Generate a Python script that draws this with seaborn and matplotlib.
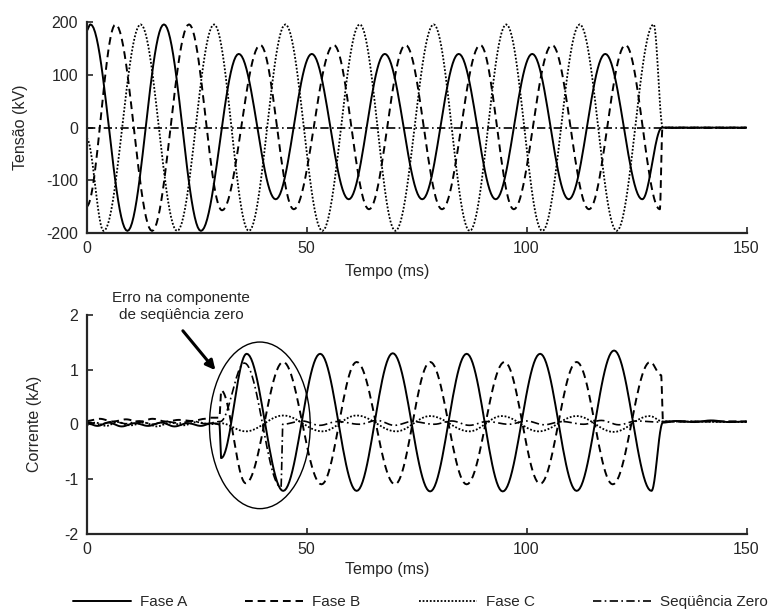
import numpy as np
import pandas as pd
import seaborn as sns
import matplotlib
matplotlib.use("Agg")
import matplotlib.pyplot as plt
from matplotlib.patches import Ellipse

# =========================
# DATA (turning points of each waveform)
# =========================
# --- Tensão (kV) ---
va_t = [0, 0.9, 9.3, 17.6, 26.0, 34.6, 43.0, 51.2, 59.6, 67.8, 76.3, 84.6, 93.0,
        101.3, 109.6, 117.9, 126.3, 130.8, 150]
va_v = [184, 196, -196, 196, -196, 140, -136, 140, -136, 140, -136, 140, -136,
        140, -136, 140, -136, 0, 0]

vb_t = [0, 6.6, 14.9, 23.3, 30.8, 39.5, 47.1, 56.2, 64.2, 72.5, 80.8, 89.5, 97.1,
        105.8, 114.2, 122.5, 130.3, 130.9, 150]
vb_v = [-150, 196, -196, 196, -157, 157, -155, 157, -155, 157, -155, 157, -155,
        157, -155, 157, -155, 0, 0]

vc_t = [0, 3.9, 12.3, 20.6, 29.0, 36.9, 45.2, 53.6, 62.1, 70.2, 78.9, 87.1, 95.4,
        103.6, 112.1, 120.5, 128.9, 131.0, 150]
vc_v = [-20, -196, 196, -196, 196, -196, 196, -196, 196, -196, 196, -196, 196,
        -196, 196, -196, 196, 0, 0]

v0_t = [0, 150]
v0_v = [0, 0]

# --- Corrente (kA) ---
ia_t = [0, 2.5, 5, 8, 11, 14, 17, 20, 23, 26, 28.5, 30.2, 30.6, 36.4, 44.7, 53.1,
        61.4, 69.6, 78.1, 86.4, 94.6, 103.1, 111.4, 119.9, 128.4, 131.0, 134, 138,
        142, 146, 150]
ia_v = [0.02, -0.03, 0.03, -0.04, 0.02, -0.03, 0.03, -0.04, 0.02, -0.03, 0.02, 0.0,
        -0.62, 1.29, -1.22, 1.29, -1.22, 1.30, -1.23, 1.29, -1.23, 1.29, -1.22, 1.35,
        -1.22, 0.03, 0.06, 0.04, 0.07, 0.04, 0.05]

ib_t = [0, 3, 6, 9, 12, 15, 18, 21, 24, 27, 28.2, 30.2, 30.6, 36.2, 44.7, 53.4,
        61.4, 70.1, 78.1, 86.4, 95.0, 103.1, 111.4, 119.6, 128.1, 130.6, 131.0, 150]
ib_v = [0.06, 0.10, 0.05, 0.09, 0.04, 0.10, 0.05, 0.08, 0.06, 0.10, 0.12, 0.12,
        0.62, -1.08, 1.14, -1.10, 1.14, -1.10, 1.14, -1.10, 1.14, -1.09, 1.14, -1.10,
        1.14, 0.90, 0.05, 0.05]

ic_t = [0, 2, 4.5, 7, 10, 13, 16, 19, 22, 25, 28, 30.4, 36.2, 44.7, 53.6, 61.4,
        70.4, 78.1, 87.0, 94.4, 102.8, 111.4, 119.8, 128.0, 131.0, 150]
ic_v = [-0.02, 0.03, -0.03, 0.04, -0.02, 0.03, -0.04, 0.03, -0.02, 0.04, 0.0, 0.02,
        -0.13, 0.16, -0.13, 0.16, -0.13, 0.15, -0.13, 0.15, -0.13, 0.15, -0.14, 0.15,
        0.05, 0.04]

i0_t = [0, 3, 6, 9, 12, 15, 18, 21, 24, 27, 30.4, 35.9, 44.2, 44.6, 49, 53, 57,
        62, 66, 70, 74, 79, 83, 87, 91, 96, 100, 104, 108, 113, 117, 121, 125, 130,
        131.5, 150]
i0_v = [0.04, 0.0, 0.05, 0.01, 0.06, 0.0, 0.05, 0.02, 0.06, 0.01, 0.05, 1.12,
        -1.15, 0.0, 0.06, -0.02, 0.05, 0.0, 0.07, -0.02, 0.05, 0.0, 0.06, -0.02,
        0.05, 0.0, 0.06, -0.01, 0.05, 0.0, 0.07, -0.01, 0.06, 0.04, 0.05, 0.05]

names = ["Fase A", "Fase B", "Fase C", "Seqüência Zero"]


def smooth(ts, vs, n=24):
    # join consecutive turning points with half-cosine arcs
    xs, ys = [ts[0]], [vs[0]]
    s = np.linspace(0, 1, n + 1)[1:]
    for i in range(len(ts) - 1):
        xs.extend(ts[i] + (ts[i + 1] - ts[i]) * s)
        ys.extend(vs[i] + (vs[i + 1] - vs[i]) * (1 - np.cos(np.pi * s)) / 2)
    return np.array(xs), np.array(ys)


# =========================
# STYLE
# =========================
sns.set_style("ticks")
plt.rcParams["font.family"] = ["Liberation Sans", "DejaVu Sans"]
plt.rcParams["axes.unicode_minus"] = False

styles = {
    "Fase A": dict(linestyle="-", lw=1.4),
    "Fase B": dict(linestyle=(0, (4, 2.5)), lw=1.4),
    "Fase C": dict(linestyle=(0, (1, 1)), lw=1.3),
    "Seqüência Zero": dict(linestyle=(0, (5, 2, 1, 2)), lw=1.2),
}

fig = plt.figure(figsize=(7.81, 6.13), dpi=100)
W, H = 781, 613
ax1 = fig.add_axes([86.5 / W, (H - 233) / H, 660 / W, 210.7 / H])
ax2 = fig.add_axes([86.5 / W, (H - 533.5) / H, 660 / W, 218.5 / H])

top = {"Fase A": (va_t, va_v), "Fase B": (vb_t, vb_v),
       "Fase C": (vc_t, vc_v), "Seqüência Zero": (v0_t, v0_v)}
bot = {"Fase A": (ia_t, ia_v), "Fase B": (ib_t, ib_v),
       "Fase C": (ic_t, ic_v), "Seqüência Zero": (i0_t, i0_v)}

for ax, data in [(ax1, top), (ax2, bot)]:
    for name in ["Seqüência Zero", "Fase C", "Fase B", "Fase A"]:
        x, y = smooth(*data[name])
        df = pd.DataFrame({"t": x, "v": y})
        sns.lineplot(data=df, x="t", y="v", ax=ax, color="black",
                     estimator=None, sort=False, label=name, legend=False,
                     **styles[name])
    ax.set_xlim(0, 150)
    ax.set_xticks([0, 50, 100, 150])
    ax.tick_params(direction="in", length=4, width=1.2, labelsize=11.5)
    ax.tick_params(axis="x", pad=6)
    ax.tick_params(axis="y", pad=6)
    sns.despine(ax=ax)
    for sp in ["left", "bottom"]:
        ax.spines[sp].set_linewidth(1.6)
    ax.set_xlabel("Tempo (ms)", fontsize=11.5)

ax1.set_ylim(-200, 200)
ax1.set_yticks([-200, -100, 0, 100, 200])
ax1.set_ylabel("Tensão (kV)", fontsize=11.5)
ax1.yaxis.set_label_coords(-0.088, 0.5)
ax1.xaxis.set_label_coords(0.456, -0.147)

ax2.set_ylim(-2, 2)
ax2.set_yticks([-2, -1, 0, 1, 2])
ax2.set_ylabel("Corrente (kA)", fontsize=11.5)
ax2.yaxis.set_label_coords(-0.068, 0.5)
ax2.xaxis.set_label_coords(0.456, -0.13)

# annotation of the zero-sequence error
ax2.add_patch(Ellipse((39.4, -0.02), width=22.9, height=3.05, fill=False,
                      ec="black", lw=1.0))
ax2.text(21.5, 2.15, "Erro na componente\nde seqüência zero", ha="center",
         va="center", fontsize=11, linespacing=1.25, clip_on=False)
ax2.annotate("", xy=(29.7, 0.95), xytext=(21.5, 1.75),
             arrowprops=dict(arrowstyle="-|>", lw=2.2, color="black",
                             mutation_scale=14))

# legend along the bottom
handles, labels = ax2.get_legend_handles_labels()
order = [labels.index(n) for n in names]
fig.legend([handles[i] for i in order], names, loc="center",
           bbox_to_anchor=(0.538, (H - 602) / H), ncol=4, frameon=False,
           handlelength=3.8, columnspacing=3.8, handletextpad=0.6, fontsize=11)

fig.savefig("out.png", dpi=100)
